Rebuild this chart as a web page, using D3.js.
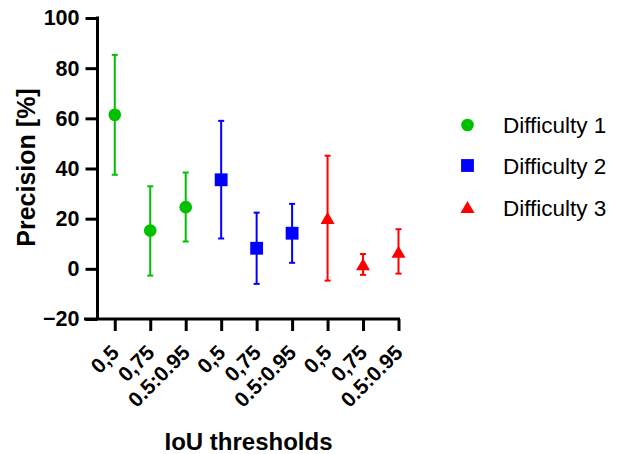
<!DOCTYPE html>
<html><head><meta charset="utf-8">
<script src="https://cdn.jsdelivr.net/npm/d3@7"></script>
<style>body{margin:0;background:#fff}svg{display:block}text{font-family:"Liberation Sans",Arial,sans-serif}</style>
</head><body><svg id="c" width="619" height="454"></svg>
<script>
const tickLabels = ["0,5","0,75","0.5:0.95","0,5","0,75","0.5:0.95","0,5","0,75","0.5:0.95"];
const seriesNames = ["Difficulty 1","Difficulty 2","Difficulty 3"];
const seriesColors = ["#00C000","#0000FF","#FF0000"];
const seriesShapes = ["circle","square","triangle"];
const mean1 = [61.4, 15.3, 24.6];
const upper1 = [85.3, 32.9, 38.4];
const lower1 = [37.5, -2.7, 10.9];
const mean2 = [35.5, 8.2, 14.2];
const upper2 = [59.0, 22.4, 25.9];
const lower2 = [12.1, -6.0, 2.4];
const mean3 = [20.1, 1.6, 6.6];
const upper3 = [45.1, 5.9, 15.8];
const lower3 = [-4.7, -2.4, -1.9];
const yTicks = [-20, 0, 20, 40, 60, 80, 100];

const means = [mean1, mean2, mean3], uppers = [upper1, upper2, upper3], lowers = [lower1, lower2, lower3];
const points = [];
means.forEach((m, s) => m.forEach((v, j) => points.push({s, idx: s*3+j, v, hi: uppers[s][j], lo: lowers[s][j]})));

const svg = d3.select("#c");
const x = d3.scaleLinear().domain([-0.487, 8]).range([97.5, 398.5]);
const y = d3.scaleLinear().domain([-20, 100]).range([319, 18]);

const symType = {circle: d3.symbolCircle, square: d3.symbolSquare, triangle: d3.symbolTriangle};
const symSize = {circle: 125, square: 165, triangle: 85};

// error bars
const eb = svg.append("g");
points.forEach(p => {
  const g = eb.append("g").attr("stroke", seriesColors[p.s]).attr("stroke-width", 2).attr("fill", "none");
  const cx = x(p.idx);
  g.append("line").attr("x1", cx).attr("x2", cx).attr("y1", y(p.hi)).attr("y2", y(p.lo));
  g.append("line").attr("x1", cx-3).attr("x2", cx+3).attr("y1", y(p.hi)).attr("y2", y(p.hi));
  g.append("line").attr("x1", cx-3).attr("x2", cx+3).attr("y1", y(p.lo)).attr("y2", y(p.lo));
});
// markers
svg.append("g").selectAll("path").data(points).join("path")
  .attr("d", p => d3.symbol(symType[seriesShapes[p.s]], symSize[seriesShapes[p.s]])())
  .attr("transform", p => `translate(${x(p.idx)},${y(p.v) + (seriesShapes[p.s]==="triangle"?1.5:0)})`)
  .attr("fill", p => seriesColors[p.s]);

// y axis
const ya = svg.append("g").attr("transform", "translate(97.5,0)")
  .call(d3.axisLeft(y).tickValues(yTicks).tickSize(12).tickPadding(6).tickFormat(d3.format("d")));
ya.select(".domain").attr("stroke-width", 3).attr("d", `M0,${y(100)-1.5}V${y(-20)}`);
ya.selectAll(".tick line").attr("stroke-width", 3);
ya.selectAll(".tick text").attr("font-size", 21.5).attr("font-weight", "bold").attr("fill", "#000")
  .attr("font-family", '"Liberation Sans",Arial,sans-serif');

// x axis
const xa = svg.append("g").attr("transform", `translate(0,${y(-20)})`)
  .call(d3.axisBottom(x).tickValues(d3.range(9)).tickSize(12).tickFormat(i => tickLabels[i]));
xa.select(".domain").attr("stroke-width", 3).attr("d", `M84,0H${x(8)+1.5}`);
xa.selectAll(".tick line").attr("stroke-width", 3);
xa.selectAll(".tick text").attr("font-size", 21).attr("font-weight", "bold").attr("fill", "#000")
  .attr("font-family", '"Liberation Sans",Arial,sans-serif')
  .attr("text-anchor", "end").attr("dy", null).attr("y", 0)
  .attr("transform", "translate(5,35) rotate(-45)");

// axis titles
svg.append("text").attr("transform", "translate(35,167.5) rotate(-90)")
  .attr("text-anchor", "middle").attr("font-size", 25).attr("font-weight", "bold").text("Precision [%]");
svg.append("text").attr("x", 248.5).attr("y", 450)
  .attr("text-anchor", "middle").attr("font-size", 24).attr("font-weight", "bold").text("IoU thresholds");

// legend
const lg = svg.append("g");
const legY = [125, 165.5, 207.5];
seriesNames.forEach((n, s) => {
  lg.append("path").attr("d", d3.symbol(symType[seriesShapes[s]], symSize[seriesShapes[s]])())
    .attr("transform", `translate(467.5,${legY[s] + (seriesShapes[s]==="triangle"?1.5:0)})`).attr("fill", seriesColors[s]);
  lg.append("text").attr("x", 503).attr("y", legY[s] + 8).attr("font-size", 22.5).text(n);
});
</script></body></html>
